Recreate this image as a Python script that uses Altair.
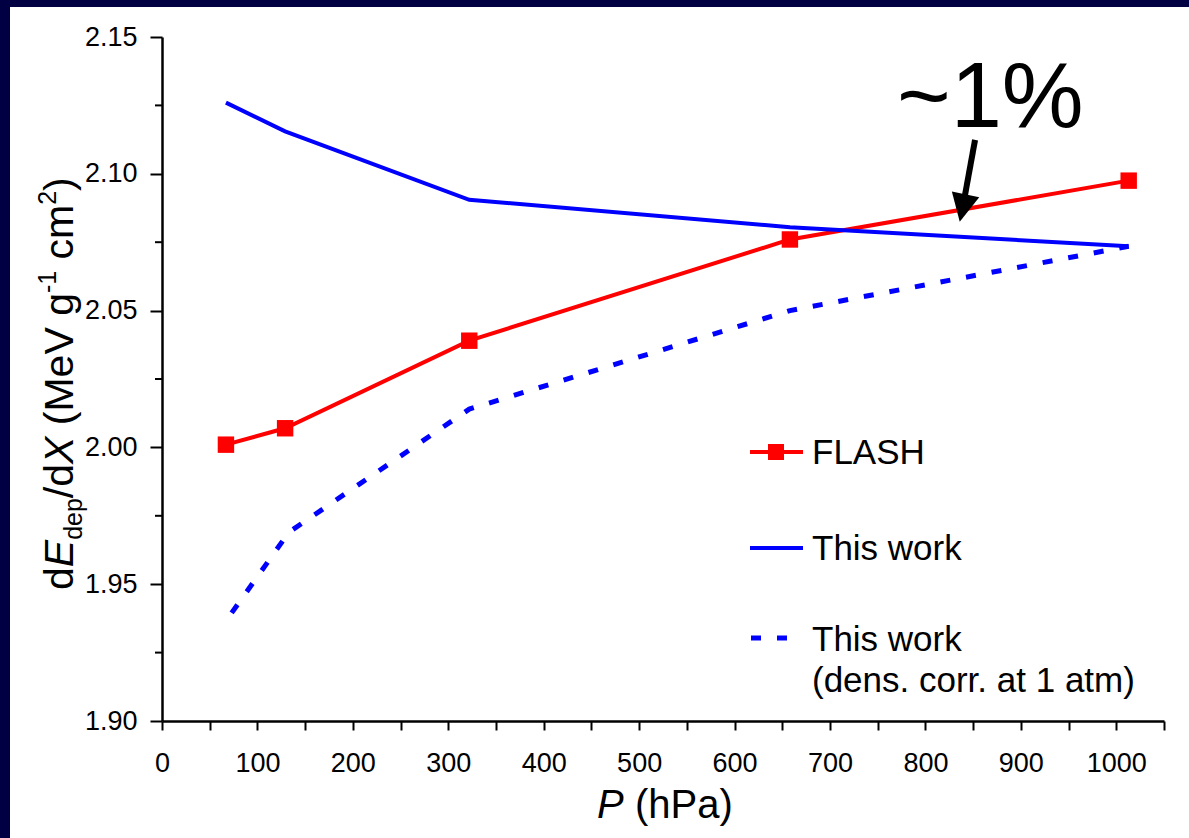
import altair as alt
import pandas as pd

# ---------------- data ----------------
P_flash = [67, 129, 322, 658, 1013]
flash = [2.001, 2.007, 2.039, 2.076, 2.0975]

P_work = [67, 129, 322, 658, 1013]
work = [2.126, 2.1155, 2.0905, 2.0805, 2.0735]

P_dens = [73, 133, 322, 658, 1013]
dens = [1.9395, 1.9690, 2.0140, 2.0500, 2.0735]

x_ticks = list(range(0, 1051, 50))
y_major = [1.90, 1.95, 2.00, 2.05, 2.10, 2.15]
y_minor = [1.925, 1.975, 2.025, 2.075, 2.125]

arrow_P = [852, 839]
arrow_v = [2.1124, 2.0875]
note_text = "~1%"
note_P = [868]
note_v = [2.117]

FONT = "Liberation Sans"
RED = "#ff0000"
BLUE = "#0000ff"
NAVY = "#000042"

df_flash = pd.DataFrame({"P": P_flash, "v": flash})
df_work = pd.DataFrame({"P": P_work, "v": work})
df_dens = pd.DataFrame({"P": P_dens, "v": dens})
df_minor = pd.DataFrame({"v": y_minor})
df_arrow = pd.DataFrame({"P": [arrow_P[0]], "v": [arrow_v[0]], "P2": [arrow_P[1]], "v2": [arrow_v[1]]})
df_head = pd.DataFrame({"P": [arrow_P[1]], "v": [arrow_v[1]]})
df_note = pd.DataFrame({"P": note_P, "v": note_v, "t": [note_text]})
one = pd.DataFrame({"k": [0]})

xs = alt.Scale(domain=[0, 1050], nice=False, zero=False)
ys = alt.Scale(domain=[1.90, 2.15], nice=False, zero=False)

x_axis = alt.Axis(values=x_ticks, format="d",
                  labelExpr="datum.value % 100 == 0 ? datum.label : ''",
                  title=None, grid=False, tickSize=9, labelPadding=20, zindex=1,
                  labelFontSize=27, labelFont=FONT, labelColor="black",
                  domainColor="black", domainWidth=2.5, tickColor="black", tickWidth=2,
                  labelFlush=False, labelOverlap=False)
y_axis = alt.Axis(values=y_major, format=".2f", title=None, grid=False, tickSize=12,
                  labelPadding=13, zindex=1, labelFontSize=27, labelFont=FONT,
                  labelColor="black", domainColor="black", domainWidth=2.5,
                  tickColor="black", tickWidth=2, labelFlush=False, labelOverlap=False)

X = alt.X("P:Q", scale=xs, axis=x_axis)
Y = alt.Y("v:Q", scale=ys, axis=y_axis)

# white slide panel
panel = alt.Chart(one).mark_rect(color="white").encode(
    x=alt.value(-152), x2=alt.value(1027), y=alt.value(-30), y2=alt.value(801))

minor_ticks = alt.Chart(df_minor).mark_rule(color="black", strokeWidth=2).encode(
    y=alt.Y("v:Q", scale=ys, axis=y_axis), x=alt.value(-7), x2=alt.value(0))

dens_line = alt.Chart(df_dens).mark_line(color=BLUE, strokeWidth=5, strokeDash=[10, 16],
                                         strokeCap="butt").encode(x=X, y=Y)
flash_line = alt.Chart(df_flash).mark_line(color=RED, strokeWidth=4).encode(x=X, y=Y)
flash_pts = alt.Chart(df_flash).mark_point(shape="square", filled=True, size=270,
                                           color=RED, opacity=1).encode(x=X, y=Y)
work_line = alt.Chart(df_work).mark_line(color=BLUE, strokeWidth=4).encode(x=X, y=Y)

arrow = alt.Chart(df_arrow).mark_rule(color="black", strokeWidth=6).encode(
    x=X, y=Y, x2="P2:Q", y2="v2:Q")
head = alt.Chart(df_head).mark_point(shape="M-1,-1L1,-1L0,1Z", filled=True, size=784,
                                     color="black", opacity=1, angle=12).encode(x=X, y=Y)
note = alt.Chart(df_note).mark_text(fontSize=92, font=FONT, align="center",
                                    baseline="alphabetic", color="black").encode(
    x=X, y=Y, text="t:N")

# legend
leg = []
leg.append(alt.Chart(one).mark_rule(color=RED, strokeWidth=4).encode(
    x=alt.value(588), x2=alt.value(641), y=alt.value(415)))
leg.append(alt.Chart(one).mark_point(shape="square", filled=True, size=256, color=RED,
                                     opacity=1).encode(x=alt.value(614), y=alt.value(415)))
leg.append(alt.Chart(one).mark_rule(color=BLUE, strokeWidth=4).encode(
    x=alt.value(588), x2=alt.value(641), y=alt.value(511)))
leg.append(alt.Chart(one).mark_rule(color=BLUE, strokeWidth=5, strokeDash=[10, 16],
                                    strokeCap="butt").encode(
    x=alt.value(589), x2=alt.value(641), y=alt.value(601)))
for txt, yy in [("FLASH", 416), ("This work", 512), ("This work", 603),
                ("(dens. corr. at 1 atm)", 644)]:
    leg.append(alt.Chart(one).mark_text(text=txt, fontSize=35, font=FONT, align="left",
                                        baseline="middle", color="black").encode(
        x=alt.value(650), y=alt.value(yy)))

# axis titles
titles = []
titles.append(alt.Chart(one).mark_text(text="P", fontSize=40, font=FONT, fontStyle="italic",
                                       align="left", baseline="alphabetic",
                                       color="black").encode(x=alt.value(435), y=alt.value(781)))
titles.append(alt.Chart(one).mark_text(text="(hPa)", fontSize=40, font=FONT, align="left",
                                       baseline="alphabetic",
                                       color="black").encode(x=alt.value(473), y=alt.value(781)))

# y title pieces: (text, size, style, baseline shift, em width, gap before in em)
pieces = [
    ("d", 41, "normal", 0, 0.556, 0),
    ("E", 41, "italic", 0, 0.667, 0),
    ("dep", 25, "normal", 9, 1.668, 0),
    ("/d", 41, "normal", 0, 0.834, 0),
    ("X", 41, "italic", 0, 0.667, 0),
    ("(MeV g", 41, "normal", 0, 3.223, 0.278),
    ("-1", 25, "normal", -17, 0.889, 0),
    ("cm", 41, "normal", 0, 1.333, 0.278),
    ("2", 25, "normal", -17, 0.556, 0),
    (")", 41, "normal", 0, 0.333, 0),
]
base_x = -89
pos = 553
for t, s, st, sh, w, gap in pieces:
    pos -= gap * 41
    titles.append(alt.Chart(one).mark_text(text=t, fontSize=s, font=FONT, fontStyle=st,
                                           angle=270, align="left", baseline="alphabetic",
                                           color="black").encode(
        x=alt.value(base_x + sh), y=alt.value(pos)))
    pos -= w * s

chart = alt.layer(panel, minor_ticks, dens_line, flash_line, flash_pts, work_line,
                  arrow, head, note, *leg, *titles).properties(
    width=1002, height=684,
    padding={"left": 162, "top": 37, "right": 25, "bottom": 117},
    autosize=alt.AutoSizeParams(type="none"),
    background=NAVY,
).configure_view(stroke=None, fill="white")

chart.save("out.html", embed_options={"renderer": "svg", "actions": False})
